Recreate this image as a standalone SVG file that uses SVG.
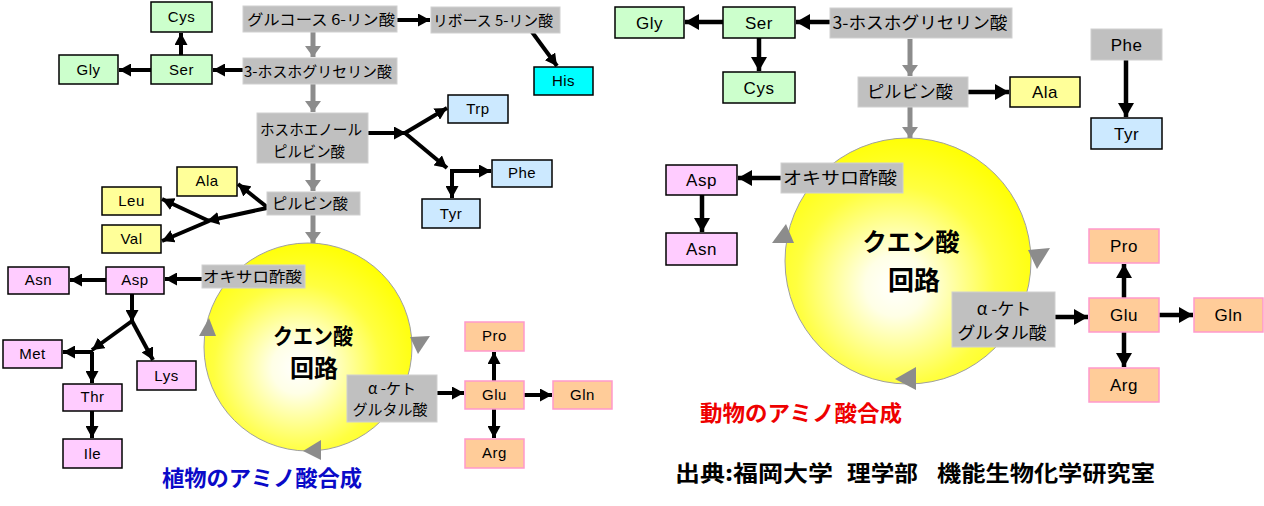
<svg xmlns="http://www.w3.org/2000/svg" width="1264" height="506" viewBox="0 0 1264 506">
<style>
.g{fill:#c0c0c0;stroke:#d0d0d0;stroke-width:1}
.grn{fill:#ccffcc;stroke:#000;stroke-width:1.5}
.yel{fill:#ffff99;stroke:#000;stroke-width:1.5}
.blu{fill:#cce9ff;stroke:#000;stroke-width:1.5}
.cyn{fill:#00ffff;stroke:#000;stroke-width:1.5}
.pnk{fill:#ffccff;stroke:#000;stroke-width:1.5}
.org{fill:#ffcc99;stroke:#ff99cc;stroke-width:1.5}
.jp{font-family:"Noto Sans CJK JP","Noto Sans",sans-serif;font-size:15px;fill:#000;text-anchor:middle}
.jpr{font-family:"Noto Sans CJK JP","Noto Sans",sans-serif;font-size:17px;fill:#000;text-anchor:middle}
.en{font-family:"Liberation Sans",Arial,sans-serif;font-size:15px;fill:#000;text-anchor:middle;letter-spacing:0.5px}
.enr{font-family:"Liberation Sans",Arial,sans-serif;font-size:17px;fill:#000;text-anchor:middle;letter-spacing:0.5px}
.cyc{font-family:"Noto Sans CJK JP",sans-serif;font-weight:bold;fill:#000;text-anchor:middle}
.blk{fill:none;stroke:#000;stroke-width:4}
.blkr{fill:none;stroke:#000;stroke-width:4.5}
.gry{fill:none;stroke:#8c8c8c;stroke-width:5}
.tri{fill:#8c8c8c}
.circ{fill:url(#yg);stroke:#a0a0a0;stroke-width:1}
.ttl{font-family:"Noto Sans CJK JP",sans-serif;font-weight:bold;font-size:22px}
</style>
<defs>
<radialGradient id="yg" cx="0.45" cy="0.6" r="0.62">
<stop offset="0" stop-color="#ffffff"/>
<stop offset="0.2" stop-color="#ffffe6"/>
<stop offset="0.65" stop-color="#ffff40"/>
<stop offset="1" stop-color="#ffff00"/>
</radialGradient>
<marker id="ah" markerUnits="userSpaceOnUse" markerWidth="13" markerHeight="13" refX="12" refY="6.5" orient="auto"><path d="M0,0 L12,6.5 L0,13 z" fill="#000"/></marker>
<marker id="ahr" markerUnits="userSpaceOnUse" markerWidth="15" markerHeight="16" refX="14" refY="8" orient="auto"><path d="M0,0 L14,8 L0,16 z" fill="#000"/></marker>
<marker id="gh" markerUnits="userSpaceOnUse" markerWidth="12" markerHeight="16" refX="11" refY="8" orient="auto"><path d="M0,0 L11,8 L0,16 z" fill="#8c8c8c"/></marker>
</defs>
<rect width="1264" height="506" fill="#ffffff"/>

<!-- cycles -->
<g id="tca-left">
<circle class="circ" cx="308" cy="347" r="104"/>
<text class="cyc" x="313" y="344" font-size="22" textLength="80" lengthAdjust="spacingAndGlyphs">クエン酸</text>
<text class="cyc" x="314" y="377" font-size="24">回路</text>
</g>
<g id="tca-right">
<circle class="circ" cx="908" cy="261" r="123"/>
<text class="cyc" x="911" y="251" font-size="25" textLength="97" lengthAdjust="spacingAndGlyphs">クエン酸</text>
<text class="cyc" x="914" y="290" font-size="26">回路</text>
</g>

<g id="connectors">
<!-- left gray main path -->
<path class="gry" d="M313,32 V57" marker-end="url(#gh)"/>
<path class="gry" d="M313,84 V112" marker-end="url(#gh)"/>
<path class="gry" d="M313,163 V191" marker-end="url(#gh)"/>
<path class="gry" d="M313,215 V243" marker-end="url(#gh)"/>
<!-- left black -->
<path class="blk" d="M397,20 H430" marker-end="url(#ah)"/>
<path class="blk" d="M532,32 L557,66" marker-end="url(#ah)"/>
<path class="blk" d="M243,70 H213" marker-end="url(#ah)"/>
<path class="blk" d="M151,70 H119" marker-end="url(#ah)"/>
<path class="blk" d="M181,55 V33" marker-end="url(#ah)"/>
<path class="blk" d="M368,133 H406" marker-end="url(#ah)"/>
<path class="blk" d="M405,133 L447,108" marker-end="url(#ah)"/>
<path class="blk" d="M405,133 L447,168" marker-end="url(#ah)"/>
<path class="blk" d="M450,171 H491" marker-end="url(#ah)"/>
<path class="blk" d="M452,170 V198" marker-end="url(#ah)"/>
<path class="blk" d="M267,207 L238,184" marker-end="url(#ah)"/>
<path class="blk" d="M267,208 L207,221" marker-end="url(#ah)"/>
<path class="blk" d="M209,221 L162,199" marker-end="url(#ah)"/>
<path class="blk" d="M209,221 L162,241" marker-end="url(#ah)"/>
<path class="blk" d="M202,279 H165" marker-end="url(#ah)"/>
<path class="blk" d="M106,280 H70" marker-end="url(#ah)"/>
<path class="blk" d="M132,294 V322" marker-end="url(#ah)"/>
<path class="blk" d="M132,321 L92,350" marker-end="url(#ah)"/>
<path class="blk" d="M132,321 L153,360" marker-end="url(#ah)"/>
<path class="blk" d="M93,352 H63" marker-end="url(#ah)"/>
<path class="blk" d="M92,352 V383" marker-end="url(#ah)"/>
<path class="blk" d="M92,411 V438" marker-end="url(#ah)"/>
<path class="blk" d="M437,393 H464" marker-end="url(#ah)"/>
<path class="blk" d="M494,381 V352" marker-end="url(#ah)"/>
<path class="blk" d="M494,409 V438" marker-end="url(#ah)"/>
<path class="blk" d="M524,395 H552" marker-end="url(#ah)"/>
<!-- left cycle arrowheads -->
<polygon class="tri" points="410,337 430,336 418,354"/>
<polygon class="tri" points="321,440 321,460 303,451"/>
<polygon class="tri" points="199,336 216,336 209,318"/>

<!-- right gray main path -->
<path class="gry" d="M910,39 V76" marker-end="url(#gh)"/>
<path class="gry" d="M910,107 V138" marker-end="url(#gh)"/>
<!-- right black -->
<path class="blkr" d="M830,22 H796" marker-end="url(#ahr)"/>
<path class="blkr" d="M723,22 H685" marker-end="url(#ahr)"/>
<path class="blkr" d="M759,38 V71" marker-end="url(#ahr)"/>
<path class="blkr" d="M968,92 H1009" marker-end="url(#ahr)"/>
<path class="blkr" d="M1126,60 V117" marker-end="url(#ahr)"/>
<path class="blkr" d="M781,178 H738" marker-end="url(#ahr)"/>
<path class="blkr" d="M702,195 V232" marker-end="url(#ahr)"/>
<path class="blkr" d="M1055,317 H1088" marker-end="url(#ahr)"/>
<path class="blkr" d="M1124,298 V264" marker-end="url(#ahr)"/>
<path class="blkr" d="M1124,332 V367" marker-end="url(#ahr)"/>
<path class="blkr" d="M1159,315 H1193" marker-end="url(#ahr)"/>
<!-- right cycle arrowheads -->
<polygon class="tri" points="772,243 794,243 786,224"/>
<polygon class="tri" points="1028,250 1050,248 1037,269"/>
<polygon class="tri" points="916,367 916,390 895,379"/>
</g>

<!-- left nodes -->
<g id="L-Cys"><rect class="grn" x="151" y="2" width="61" height="30"/><text class="en" x="181.5" y="22">Cys</text></g>
<g id="L-Ser"><rect class="grn" x="151" y="55" width="61" height="29"/><text class="en" x="181.5" y="75">Ser</text></g>
<g id="L-Gly"><rect class="grn" x="59" y="55" width="59" height="29"/><text class="en" x="88.5" y="75">Gly</text></g>
<g id="L-G6P"><rect class="g" x="243" y="6" width="154" height="26"/><text class="jp" x="321" y="25" textLength="148" lengthAdjust="spacingAndGlyphs">グルコース 6-リン酸</text></g>
<g id="L-R5P"><rect class="g" x="431" y="7" width="129" height="26"/><text class="jp" x="493" y="26" textLength="120" lengthAdjust="spacingAndGlyphs">リボース 5-リン酸</text></g>
<g id="L-His"><rect class="cyn" x="534" y="67" width="59" height="28"/><text class="en" x="563.5" y="86">His</text></g>
<g id="L-3PG"><rect class="g" x="243" y="58" width="154" height="26"/><text class="jp" x="318" y="77" textLength="148" lengthAdjust="spacingAndGlyphs">3-ホスホグリセリン酸</text></g>
<g id="L-PEP"><rect class="g" x="257" y="113" width="111" height="50"/><text class="jp" x="311" y="135" textLength="102" lengthAdjust="spacingAndGlyphs">ホスホエノール</text><text class="jp" x="309" y="157" textLength="72" lengthAdjust="spacingAndGlyphs">ピルビン酸</text></g>
<g id="L-Pyr"><rect class="g" x="267" y="192" width="93" height="23"/><text class="jp" x="310" y="209" textLength="76" lengthAdjust="spacingAndGlyphs">ピルビン酸</text></g>
<g id="L-Trp"><rect class="blu" x="448" y="95" width="60" height="28"/><text class="en" x="478" y="114">Trp</text></g>
<g id="L-Phe"><rect class="blu" x="492" y="160" width="60" height="27"/><text class="en" x="522" y="178">Phe</text></g>
<g id="L-Tyr"><rect class="blu" x="422" y="199" width="58" height="29"/><text class="en" x="451" y="219">Tyr</text></g>
<g id="L-Ala"><rect class="yel" x="177" y="167" width="60" height="29"/><text class="en" x="207" y="186">Ala</text></g>
<g id="L-Leu"><rect class="yel" x="102" y="187" width="59" height="28"/><text class="en" x="131.5" y="206">Leu</text></g>
<g id="L-Val"><rect class="yel" x="102" y="225" width="59" height="28"/><text class="en" x="131.5" y="244">Val</text></g>
<g id="L-Asn"><rect class="pnk" x="8" y="267" width="61" height="27"/><text class="en" x="38.5" y="285">Asn</text></g>
<g id="L-Asp"><rect class="pnk" x="106" y="267" width="58" height="27"/><text class="en" x="135" y="285">Asp</text></g>
<g id="L-OAA"><rect class="g" x="202" y="265" width="103" height="23"/><text class="jp" x="252.5" y="282" textLength="99" lengthAdjust="spacingAndGlyphs">オキサロ酢酸</text></g>
<g id="L-Met"><rect class="pnk" x="3" y="340" width="59" height="28"/><text class="en" x="32.5" y="359">Met</text></g>
<g id="L-Lys"><rect class="pnk" x="137" y="361" width="59" height="29"/><text class="en" x="166.5" y="381">Lys</text></g>
<g id="L-Thr"><rect class="pnk" x="63" y="384" width="59" height="27"/><text class="en" x="92.5" y="402">Thr</text></g>
<g id="L-Ile"><rect class="pnk" x="63" y="439" width="59" height="29"/><text class="en" x="92.5" y="459">Ile</text></g>
<g id="L-AKG"><rect class="g" x="347" y="375" width="90" height="47"/><text class="jp" x="392" y="394">α -ケト</text><text class="jp" x="390" y="415" textLength="75" lengthAdjust="spacingAndGlyphs">グルタル酸</text></g>
<g id="L-Glu"><rect class="org" x="465" y="381" width="59" height="28"/><text class="en" x="494.5" y="400">Glu</text></g>
<g id="L-Pro"><rect class="org" x="465" y="322" width="59" height="29"/><text class="en" x="494.5" y="341">Pro</text></g>
<g id="L-Gln"><rect class="org" x="553" y="381" width="59" height="28"/><text class="en" x="582.5" y="400">Gln</text></g>
<g id="L-Arg"><rect class="org" x="465" y="439" width="59" height="29"/><text class="en" x="494.5" y="458">Arg</text></g>
<text class="ttl" x="162" y="486" fill="#0a0ac8" textLength="200" lengthAdjust="spacingAndGlyphs">植物のアミノ酸合成</text>

<!-- right nodes -->
<g id="R-Gly"><rect class="grn" x="615" y="7" width="69" height="31"/><text class="enr" x="649.5" y="29">Gly</text></g>
<g id="R-Ser"><rect class="grn" x="723" y="7" width="72" height="31"/><text class="enr" x="759" y="29">Ser</text></g>
<g id="R-Cys"><rect class="grn" x="723" y="72" width="72" height="31"/><text class="enr" x="759" y="94">Cys</text></g>
<g id="R-3PG"><rect class="g" x="830" y="8" width="182" height="30"/><text class="jpr" x="920" y="29" textLength="175" lengthAdjust="spacingAndGlyphs">3-ホスホグリセリン酸</text></g>
<g id="R-Pyr"><rect class="g" x="858" y="77" width="110" height="30"/><text class="jpr" x="910" y="98" textLength="86" lengthAdjust="spacingAndGlyphs">ピルビン酸</text></g>
<g id="R-Ala"><rect class="yel" x="1010" y="77" width="70" height="30"/><text class="enr" x="1045" y="98">Ala</text></g>
<g id="R-Phe"><rect class="g" x="1091" y="29" width="71" height="31"/><text class="enr" x="1126.5" y="51">Phe</text></g>
<g id="R-Tyr"><rect class="blu" x="1091" y="118" width="71" height="31"/><text class="enr" x="1126.5" y="140">Tyr</text></g>
<g id="R-Asp"><rect class="pnk" x="666" y="165" width="71" height="30"/><text class="enr" x="701.5" y="186">Asp</text></g>
<g id="R-Asn"><rect class="pnk" x="666" y="233" width="71" height="32"/><text class="enr" x="701.5" y="255">Asn</text></g>
<g id="R-OAA"><rect class="g" x="781" y="163" width="122" height="30"/><text class="jpr" x="840" y="184" textLength="114" lengthAdjust="spacingAndGlyphs">オキサロ酢酸</text></g>
<g id="R-AKG"><rect class="g" x="952" y="292" width="103" height="55"/><text class="jpr" x="1004" y="315">α -ケト</text><text class="jpr" x="1002" y="339" textLength="89" lengthAdjust="spacingAndGlyphs">グルタル酸</text></g>
<g id="R-Glu"><rect class="org" x="1089" y="298" width="70" height="34"/><text class="enr" x="1124" y="321">Glu</text></g>
<g id="R-Pro"><rect class="org" x="1089" y="229" width="70" height="34"/><text class="enr" x="1124" y="252">Pro</text></g>
<g id="R-Arg"><rect class="org" x="1089" y="368" width="70" height="34"/><text class="enr" x="1124" y="391">Arg</text></g>
<g id="R-Gln"><rect class="org" x="1194" y="298" width="69" height="34"/><text class="enr" x="1228.5" y="321">Gln</text></g>
<text class="ttl" x="700" y="421" fill="#ee0000" textLength="202" lengthAdjust="spacingAndGlyphs">動物のアミノ酸合成</text>
<text class="ttl" x="675" y="481" fill="#000" font-size="24" textLength="158" lengthAdjust="spacingAndGlyphs">出典:福岡大学</text>
<text class="ttl" x="847" y="481" fill="#000" font-size="24" textLength="71" lengthAdjust="spacingAndGlyphs">理学部</text>
<text class="ttl" x="937" y="481" fill="#000" font-size="24" textLength="218" lengthAdjust="spacingAndGlyphs">機能生物化学研究室</text>
</svg>
